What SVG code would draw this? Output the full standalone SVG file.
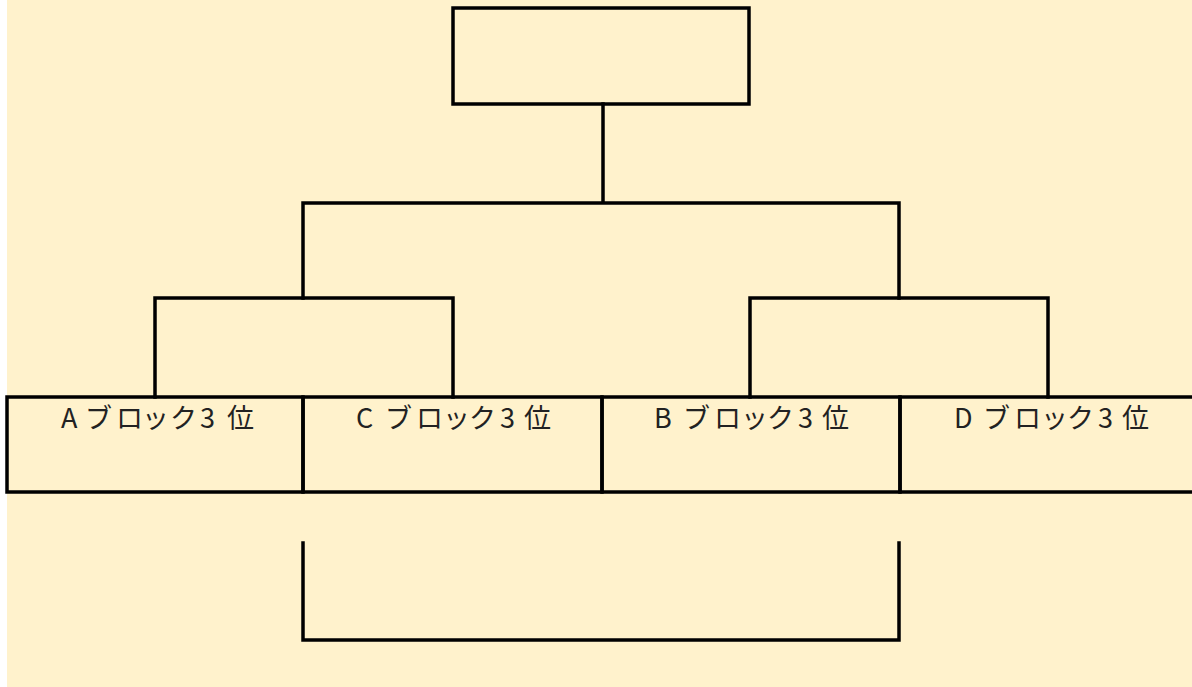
<svg xmlns="http://www.w3.org/2000/svg" width="1192" height="687" viewBox="0 0 1192 687">
<style>
.box{fill:none;stroke:#000;stroke-width:3.5}
.ln{fill:none;stroke:#000;stroke-width:3.5;stroke-linecap:square}
.lbl{font-family:"Noto Sans CJK JP","Noto Sans",sans-serif;font-size:27px;fill:#222}
</style>
<rect x="0" y="0" width="1192" height="687" fill="#fff"/>
<rect x="7" y="0" width="1185" height="687" fill="#FFF2CC"/>
<g id="top"><rect class="box" x="453" y="8" width="296" height="96"/></g>
<g id="connectors">
<path class="ln" d="M603 104V203M303 203H899M303 203V298M899 203V298"/>
<path class="ln" d="M155 298H453M155 298V397M453 298V397"/>
<path class="ln" d="M750 298H1048M750 298V397M1048 298V397"/>
<path class="ln" d="M303 543V640H899V543"/>
</g>
<g id="a3"><rect class="box" x="7" y="397" width="296" height="95"/><text class="lbl" x="61 85 116 142 170 200 227" y="428">Aブロック3位</text></g>
<g id="c3"><rect class="box" x="303" y="397" width="299" height="95"/><text class="lbl" x="356 385 416 443 469 500 524" y="428">Cブロック3位</text></g>
<g id="b3"><rect class="box" x="602" y="397" width="298" height="95"/><text class="lbl" x="654 683 714 741 767 798 822" y="428">Bブロック3位</text></g>
<g id="d3"><rect class="box" x="900" y="397" width="300" height="95"/><text class="lbl" x="954 983 1014 1041 1067 1098 1122" y="428">Dブロック3位</text></g>
</svg>
